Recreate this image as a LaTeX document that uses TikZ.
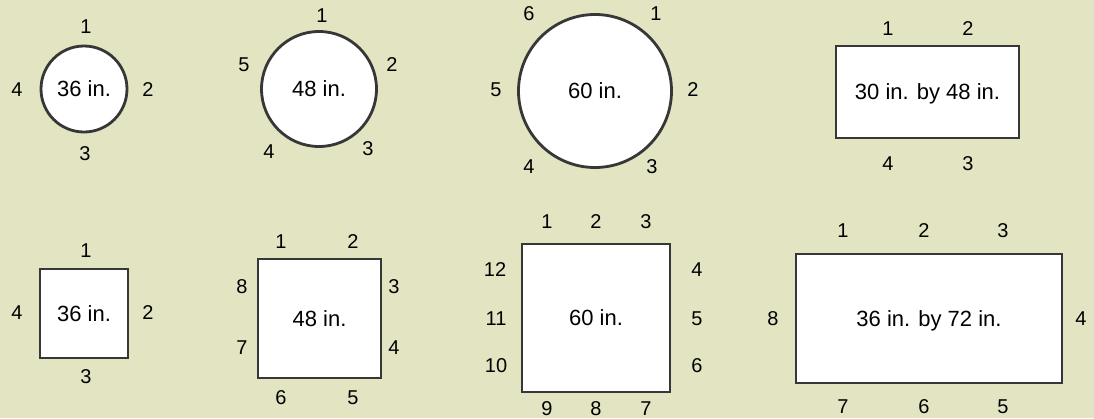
\documentclass[tikz,border=0pt]{standalone}
\usepackage{fontspec}
\setmainfont{Liberation Sans}
\definecolor{bg}{RGB}{226,228,194}
\definecolor{edge}{RGB}{55,55,55}
\tikzset{
  table/.style={draw=edge, line width=2.8pt, fill=white, inner sep=0pt, outer sep=0pt,
    font=\fontsize{22}{25}\selectfont, text depth=0pt},
  roundtable/.style={table, circle},
  recttable/.style={table, rectangle},
  seat/.style={inner sep=0pt, font=\fontsize{20}{23}\selectfont, text=black}
}
\begin{document}
\begin{tikzpicture}[x=1pt,y=-1pt]
\useasboundingbox (0,0) rectangle (1094,418);
\fill[bg] (0,0) rectangle (1094,418);

% Round 36
\node[roundtable, minimum size=86pt] (c36) at (84,89) {36 in.};
\node[seat] (c36s1) at (86,27) {1};
\node[seat] (c36s2) at (148,90) {2};
\node[seat] (c36s3) at (85,154) {3};
\node[seat] (c36s4) at (17,90) {4};

% Round 48
\node[roundtable, minimum size=115pt] (c48) at (319,89) {48 in.};
\node[seat] (c48s1) at (322,16) {1};
\node[seat] (c48s2) at (392,65) {2};
\node[seat] (c48s3) at (368,149) {3};
\node[seat] (c48s4) at (269,152) {4};
\node[seat] (c48s5) at (244,65) {5};

% Round 60
\node[roundtable, minimum size=153pt] (c60) at (595,91) {60 in.};
\node[seat] (c60s1) at (656,14) {1};
\node[seat] (c60s2) at (693,90) {2};
\node[seat] (c60s3) at (652,167) {3};
\node[seat] (c60s4) at (529,167) {4};
\node[seat] (c60s5) at (496,90) {5};
\node[seat] (c60s6) at (529,14) {6};

% Rect 30 x 48
\node[recttable, minimum width=183pt, minimum height=92pt] (r3048) at (927.5,92) {30 in. by 48 in.};
\node[seat] (r3048s1) at (888,29) {1};
\node[seat] (r3048s2) at (968,29) {2};
\node[seat] (r3048s3) at (968,164) {3};
\node[seat] (r3048s4) at (888,164) {4};

% Square 36
\node[recttable, minimum width=88pt, minimum height=89pt] (s36) at (84,313.5) {36 in.};
\node[seat] (s36s1) at (86,251) {1};
\node[seat] (s36s2) at (148,313) {2};
\node[seat] (s36s3) at (86,377) {3};
\node[seat] (s36s4) at (17,313) {4};

% Square 48
\node[recttable, minimum width=123pt, minimum height=119pt] (s48) at (319.5,318.5) {48 in.};
\node[seat] (s48s1) at (281,242) {1};
\node[seat] (s48s2) at (353,242) {2};
\node[seat] (s48s3) at (394,287) {3};
\node[seat] (s48s4) at (394,348) {4};
\node[seat] (s48s5) at (353,398) {5};
\node[seat] (s48s6) at (281,398) {6};
\node[seat] (s48s7) at (242,348) {7};
\node[seat] (s48s8) at (242,287) {8};

% Square 60
\node[recttable, minimum width=148pt, minimum height=148pt] (s60) at (596,318) {60 in.};
\node[seat] (s60s1) at (547,222) {1};
\node[seat] (s60s2) at (596,222) {2};
\node[seat] (s60s3) at (646,222) {3};
\node[seat] (s60s4) at (697,270) {4};
\node[seat] (s60s5) at (697,319) {5};
\node[seat] (s60s6) at (697,366) {6};
\node[seat] (s60s7) at (646,409) {7};
\node[seat] (s60s8) at (596,409) {8};
\node[seat] (s60s9) at (547,409) {9};
\node[seat] (s60s10) at (496,366) {10};
\node[seat] (s60s11) at (496,319) {11};
\node[seat] (s60s12) at (495,270) {12};

% Rect 36 x 72
\node[recttable, minimum width=266pt, minimum height=129pt] (r3672) at (929,318.5) {36 in. by 72 in.};
\node[seat] (r3672s1) at (843,231) {1};
\node[seat] (r3672s2) at (924,231) {2};
\node[seat] (r3672s3) at (1003,231) {3};
\node[seat] (r3672s4) at (1081,319) {4};
\node[seat] (r3672s5) at (1003,407) {5};
\node[seat] (r3672s6) at (924,407) {6};
\node[seat] (r3672s7) at (843,407) {7};
\node[seat] (r3672s8) at (773,319) {8};
\end{tikzpicture}
\end{document}
